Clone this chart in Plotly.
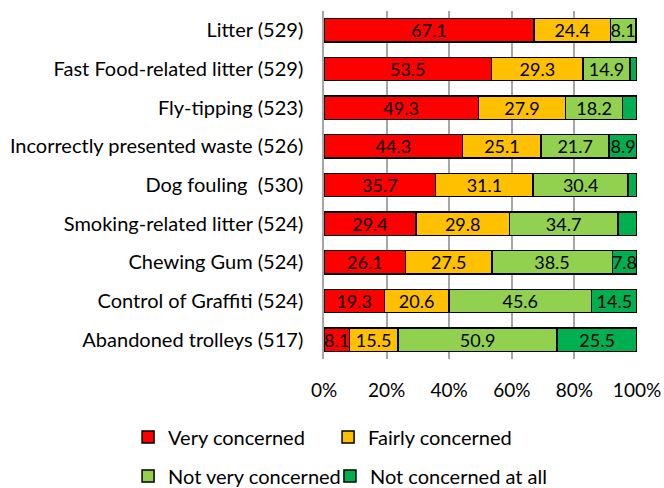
import plotly.graph_objects as go

categories = [
    "Litter (529)",
    "Fast Food-related litter (529)",
    "Fly-tipping (523)",
    "Incorrectly presented waste (526)",
    "Dog fouling  (530)",
    "Smoking-related litter (524)",
    "Chewing Gum (524)",
    "Control of Graffiti (524)",
    "Abandoned trolleys (517)",
]
very_concerned = [67.1, 53.5, 49.3, 44.3, 35.7, 29.4, 26.1, 19.3, 8.1]
fairly_concerned = [24.4, 29.3, 27.9, 25.1, 31.1, 29.8, 27.5, 20.6, 15.5]
not_very_concerned = [8.1, 14.9, 18.2, 21.7, 30.4, 34.7, 38.5, 45.6, 50.9]
not_concerned_at_all = [0.4, 2.3, 4.6, 8.9, 2.8, 6.1, 7.8, 14.5, 25.5]

x_ticks = [0, 20, 40, 60, 80, 100]
x_tick_labels = ["0%", "20%", "40%", "60%", "80%", "100%"]

# name, values, fill colour, legend id, legend x (paper), legend y (paper)
series = [
    ("Very concerned", very_concerned, "#FF0000", "legend2", -0.626, -0.224),
    ("Fairly concerned", fairly_concerned, "#FFC000", "legend3", 0.013, -0.224),
    ("Not very concerned", not_very_concerned, "#92D050", "legend4", -0.626, -0.336),
    ("Not concerned at all", not_concerned_at_all, "#00B050", "legend5", 0.019, -0.336),
]

FONT = "Lato, 'Open Sans', sans-serif"

fig = go.Figure()
legend_layouts = {}
for name, vals, color, leg, lx, ly in series:
    labels = [f"{v:.1f}" if v >= 7 else "" for v in vals]
    fig.add_trace(go.Bar(
        y=categories,
        x=vals,
        name=name,
        orientation="h",
        marker=dict(color=color, line=dict(color="#000000", width=1.5)),
        text=labels,
        textposition="inside",
        insidetextanchor="middle",
        textangle=0,
        textfont=dict(family=FONT, size=18, color="#000000"),
        legend=leg,
        showlegend=True,
        hoverinfo="x+y+name",
    ))
    legend_layouts[leg] = dict(
        orientation="h",
        x=lx, xanchor="left",
        y=ly, yanchor="middle",
        font=dict(family=FONT, size=20),
        bgcolor="rgba(0,0,0,0)",
        itemclick=False, itemdoubleclick=False,
        visible=True,
    )

fig.update_layout(
    showlegend=True,
    barmode="stack",
    bargap=0.4,
    width=664,
    height=488,
    margin=dict(l=324, r=27, t=11, b=129, autoexpand=False),
    paper_bgcolor="white",
    plot_bgcolor="white",
    font=dict(family=FONT, size=20, color="#000000"),
    uniformtext=dict(minsize=18, mode="show"),
    xaxis=dict(
        range=[0, 100],
        tickmode="array",
        tickvals=x_ticks,
        ticktext=x_tick_labels,
        showgrid=True,
        gridcolor="#A6A6A6",
        gridwidth=1.5,
        zeroline=False,
        showline=False,
        automargin=False,
        ticklabelstandoff=18,
        tickfont=dict(family=FONT, size=19),
        fixedrange=True,
    ),
    yaxis=dict(
        categoryorder="array",
        categoryarray=categories[::-1],
        showgrid=False,
        showline=True,
        linecolor="#A6A6A6",
        linewidth=1.5,
        automargin=False,
        ticklabelstandoff=15,
        tickfont=dict(family=FONT, size=20),
        fixedrange=True,
    ),
    **legend_layouts,
)

fig.write_html("out.html")
